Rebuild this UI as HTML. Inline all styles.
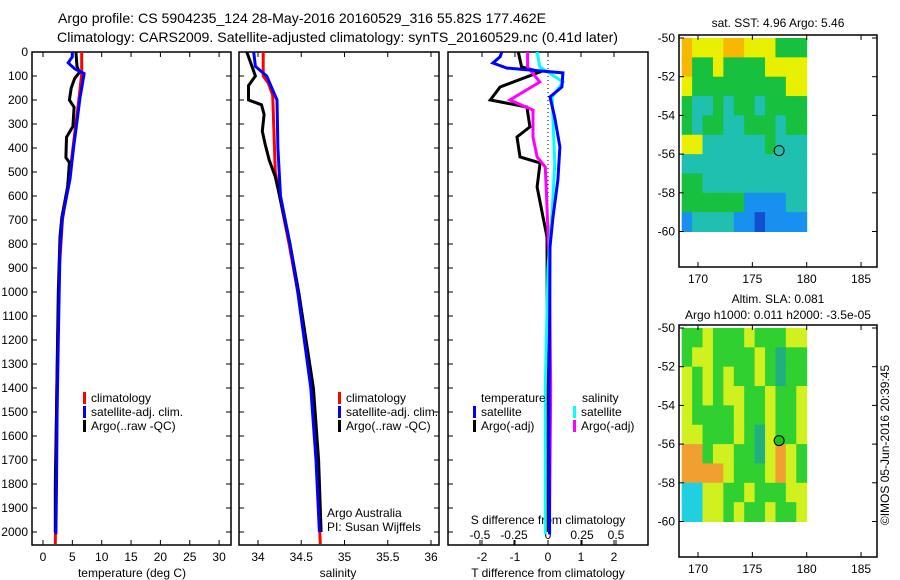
<!DOCTYPE html>
<html><head><meta charset="utf-8">
<style>
html,body{margin:0;padding:0;background:#fff;}
svg{display:block;font-family:"Liberation Sans",sans-serif;}
text{font-size:12px;fill:#000;}
.t{font-size:14px;}
</style></head>
<body>
<svg id="fig" width="900" height="580" viewBox="0 0 900 580" xmlns="http://www.w3.org/2000/svg">
<text class="t" x="58" y="23" textLength="488" lengthAdjust="spacingAndGlyphs">Argo profile: CS 5904235_124 28-May-2016 20160529_316 55.82S 177.462E</text>
<text class="t" x="57" y="42" textLength="561" lengthAdjust="spacingAndGlyphs">Climatology: CARS2009. Satellite-adjusted climatology: synTS_20160529.nc (0.41d later)</text>
<g id="g"></g>
</svg>
<script>
// ---------- data ----------
const depthTicks=[0,100,200,300,400,500,600,700,800,900,1000,1100,1200,1300,1400,1500,1600,1700,1800,1900,2000];
const tempTicks=[0,5,10,15,20,25,30];
const salTicks=[34,34.5,35,35.5,36];
const tdTicks=[-2,-1,0,1,2];
const sdTicks=[-0.5,-0.25,0,0.25,0.5];
const sdTickLabels=["-0.5","-0.25","0","0.25","0.5"];

const tClimD=[0,90,180,300,500,700,900,1200,1500,1800,2050];
const tClimV=[6.6,6.6,6.2,5.6,4.6,3.3,2.8,2.5,2.3,2.2,2.1];
const tSatD=[0,20,45,70,90,150,190,270,400,530,690,820,1200,1500,1800,2010];
const tSatV=[5.0,5.0,4.3,5.4,7.0,6.6,6.3,5.9,5.2,4.6,3.3,2.9,2.6,2.4,2.3,2.2];
const tArgD=[0,60,85,110,150,200,230,310,355,440,460,560,690,770,1000,1500,1800,2000];
const tArgV=[5.6,5.8,6.2,5.4,4.8,4.5,5.3,5.1,4.0,3.9,4.5,4.2,3.2,2.9,2.6,2.3,2.1,2.1];

const sClimD=[0,100,130,180,500,600,800,1000,1400,1700,2050];
const sClimV=[34.06,34.06,34.12,34.17,34.2,34.25,34.36,34.46,34.62,34.68,34.72];
const sSatD=[0,60,100,200,400,600,800,1000,1400,1700,2000];
const sSatV=[33.95,33.97,34.1,34.22,34.23,34.26,34.37,34.46,34.61,34.67,34.71];
const sArgD=[0,100,140,200,220,260,330,380,450,520,600,800,1000,1400,1700,2000];
const sArgV=[33.87,33.97,33.89,33.89,34.04,34.07,34.05,34.08,34.13,34.2,34.25,34.37,34.47,34.64,34.7,34.73];

const dTsD=[0,20,46,67,87,146,187,270,395,533,687,812,1200,1600,2010];
const dTsV=[-1.4,-1.45,-1.67,-1.24,0.45,0.42,0.06,0.2,0.36,0.3,0.15,0.06,0.05,0.03,0.05];
const dTaD=[0,62,83,146,200,229,312,354,437,462,562,687,771,1200,1600,2000];
const dTaV=[-0.9,-0.8,-0.24,-1.45,-1.75,-0.64,-0.55,-0.94,-0.85,-0.24,-0.33,-0.15,-0.03,-0.02,-0.05,0];
const dSsD=[0,62,125,187,325,465,670,900,1400,2010];
const dSsV=[-0.08,-0.06,0.11,0.03,0.04,0.05,0.03,0.0,-0.02,-0.02];
const dSaD=[0,62,125,200,242,354,437,479,604,900,1400,2010];
const dSaV=[-0.15,-0.15,-0.06,-0.28,-0.11,-0.11,-0.08,-0.02,-0.01,0.01,0.02,0.01];

const lonTicks=[170,175,180,185];
const latTicks=[-50,-52,-54,-56,-58,-60];
const sstGrid=["OYYYOOYYYGGG","OGGYGGGGYYYY","YGGGGGGGGGYY","GCCGCGGCGGGG","GCGGCCGGGCGG","YYCCCCCCGCCC","CCCCCCCCCCCC","GGCCCCCCCCCC","GGGGGGBBBBCC","BCCCCBBDBBBB"];
const slaGrid=["GGYGGGYGGGYY","GYYGGGGYGTGG","YGYGYGGYGTGG","YGYGYYGGYGGY","YGGGGYGGYGGY","YYGGGYGTYGGY","OOGYYGGTYOYG","OOOOYGGGYOYG","CCYYGGYGGGYY","CCYYGYGGYGGY"];
const profLon=177.462, profLat=-55.82;

// ---------- helpers ----------
const NS="http://www.w3.org/2000/svg";
const G=document.getElementById('g');
function mk(tag,at,parent){const e=document.createElementNS(NS,tag);for(const k in at)e.setAttribute(k,at[k]);(parent||G).appendChild(e);return e;}
const yD=d=>52+d*0.24;
function txt(x,y,s,anchor,name,extra){const e=mk('text',Object.assign({x:x,y:y,'text-anchor':anchor||'start'},extra||{}));e.textContent=s;


return e;}
function line(xs,ds,fx,col,name,w){const pts=ds.map((d,i)=>fx(xs[i]).toFixed(1)+','+yD(d).toFixed(1)).join(' ');
const p=mk('polyline',{points:pts,fill:'none',stroke:col,'stroke-width':w||3,'stroke-linejoin':'miter'});

}
function frame(x0,x1,y0,y1,name){const r=mk('rect',{x:x0,y:y0,width:x1-x0,height:y1-y0,fill:'none',stroke:'#000','stroke-width':1.5});

}
function leg(x,y,col,label,name){const r=mk('rect',{x:x,y:y-10,width:3,height:12,fill:col});


txt(x+8,y,label,'start',name);}

// ---------- panel 1: temperature ----------
const fT=t=>43+t*5.87;
frame(32,231,52,545,'temperature-panel');
depthTicks.forEach(d=>{mk('line',{x1:32,x2:37,y1:yD(d),y2:yD(d),stroke:'#000'});mk('line',{x1:226,x2:231,y1:yD(d),y2:yD(d),stroke:'#000'});
txt(28,yD(d)+4,String(d),'end','depth-tick-label');});
tempTicks.forEach(t=>{mk('line',{x1:fT(t),x2:fT(t),y1:52,y2:57,stroke:'#000'});mk('line',{x1:fT(t),x2:fT(t),y1:540,y2:545,stroke:'#000'});
txt(fT(t),561,String(t),'middle','temperature-tick-label');});
txt(132,577,'temperature (deg C)','middle','x-axis-title-temperature');
line(tClimV,tClimD,fT,'#f00','temp-climatology-line');
line(tArgV,tArgD,fT,'#000','temp-argo-line');
line(tSatV,tSatD,fT,'#00f','temp-satellite-line');
leg(83,402,'#f00','climatology','legend-climatology');
leg(83,416,'#00f','satellite-adj. clim.','legend-satellite-adj');
leg(83,430,'#000','Argo(..raw -QC)','legend-argo');

// ---------- panel 2: salinity ----------
const fS=s=>258+(s-34)*86.5;
frame(239,439,52,545,'salinity-panel');
depthTicks.forEach(d=>{mk('line',{x1:239,x2:244,y1:yD(d),y2:yD(d),stroke:'#000'});mk('line',{x1:434,x2:439,y1:yD(d),y2:yD(d),stroke:'#000'});});
salTicks.forEach(s=>{mk('line',{x1:fS(s),x2:fS(s),y1:52,y2:57,stroke:'#000'});mk('line',{x1:fS(s),x2:fS(s),y1:540,y2:545,stroke:'#000'});
txt(fS(s),561,String(s),'middle','salinity-tick-label');});
txt(338,577,'salinity','middle','x-axis-title-salinity');
line(sClimV,sClimD,fS,'#f00','sal-climatology-line');
line(sArgV,sArgD,fS,'#000','sal-argo-line');
line(sSatV,sSatD,fS,'#00f','sal-satellite-line');
leg(338,402,'#f00','climatology','legend-climatology-sal');
leg(338,416,'#00f','satellite-adj. clim.','legend-satellite-adj-sal');
leg(338,430,'#000','Argo(..raw -QC)','legend-argo-sal');
txt(327,517,'Argo Australia','start','credit-argo-australia');
txt(327,531,'PI: Susan Wijffels','start','credit-pi');

// ---------- panel 3: differences ----------
const fdT=v=>548+v*33;
const fdS=v=>548+v*136;
frame(448,648,52,545,'difference-panel');
depthTicks.forEach(d=>{mk('line',{x1:448,x2:453,y1:yD(d),y2:yD(d),stroke:'#000'});});
tdTicks.forEach(t=>{mk('line',{x1:fdT(t),x2:fdT(t),y1:52,y2:57,stroke:'#000'});mk('line',{x1:fdT(t),x2:fdT(t),y1:540,y2:545,stroke:'#000'});
txt(fdT(t),561,String(t),'middle','t-diff-tick-label');});
sdTicks.forEach((s,i)=>{mk('line',{x1:fdS(s),x2:fdS(s),y1:540,y2:545,stroke:'#000'});
txt(fdS(s),539,sdTickLabels[i],'middle','s-diff-tick-label');});
txt(548,524,'S difference from climatology','middle','s-diff-axis-title');
txt(548,577,'T difference from climatology','middle','t-diff-axis-title');
mk('line',{x1:548,x2:548,y1:52,y2:240,stroke:'#000','stroke-dasharray':'1,3'});
line(dTaV,dTaD,fdT,'#000','t-diff-argo-line');
line(dSaV,dSaD,fdS,'#f0f','s-diff-argo-line');
line(dSsV,dSsD,fdS,'#0ff','s-diff-satellite-line');
line(dTsV,dTsD,fdT,'#00f','t-diff-satellite-line');
txt(481,402,'temperature','start','legend-temperature-header');
txt(582,402,'salinity','start','legend-salinity-header');
leg(473,416,'#00f','satellite','legend-t-satellite');
leg(473,430,'#000','Argo(-adj)','legend-t-argo');
leg(573,416,'#0ff','satellite','legend-s-satellite');
leg(573,430,'#f0f','Argo(-adj)','legend-s-argo');

// ---------- maps ----------
const COL={O:'#f8b800',Y:'#e8f000',G:'#18c040',C:'#20c0b0',B:'#1890f0',D:'#1050d0',T:'#30b090'};
const COL2={O:'#f0a030',Y:'#d0f020',G:'#30d030',C:'#20d0e0',T:'#20b080'};
function map(y0,y1,grid,cols,name,t1,t2,dot){
  const fx=l=>698+(l-170)*10.87;
  const latTop=y0+3, fy=l=>latTop+(-50-l)*19.35;
  const rows=grid.length, nc=grid[0].length;
  const cw=(fx(180)-fx(168.5))/nc, rh=(fy(-60)-fy(-50))/rows;
  grid.forEach((row,r)=>{for(let c=0;c<nc;c++){mk('rect',{x:fx(168.5)+c*cw,y:fy(-50)+r*rh,width:cw+0.5,height:rh+0.5,fill:cols[row[c]]});}});
  frame(679,877,y0,y1,name);
  latTicks.forEach(l=>{mk('line',{x1:679,x2:684,y1:fy(l),y2:fy(l),stroke:'#000'});mk('line',{x1:872,x2:877,y1:fy(l),y2:fy(l),stroke:'#000'});
    txt(675,fy(l)+4,String(l),'end',name+'-lat-label');});
  lonTicks.forEach(l=>{mk('line',{x1:fx(l),x2:fx(l),y1:y0,y2:y0+5,stroke:'#000'});mk('line',{x1:fx(l),x2:fx(l),y1:y1-5,y2:y1,stroke:'#000'});
    txt(fx(l),y1+16,String(l),'middle',name+'-lon-label');});
  const c=mk('circle',{cx:fx(profLon),cy:fy(profLat),r:5,fill:dot,stroke:'#000','stroke-width':1});
  
  
  if(t2){txt(778,y0-22,t1,'middle',name+'-title-1');txt(778,y0-6,t2,'middle',name+'-title-2');}
  else txt(778,y0-8,t1,'middle',name+'-title');
}
map(35,267,sstGrid,COL,'sst-map','sat. SST: 4.96 Argo: 5.46',null,'none');
map(325,557,slaGrid,COL2,'sla-map','Altim. SLA: 0.081','Argo h1000: 0.011 h2000: -3.5e-05','#20c020');
txt(0,0,'©IMOS 05-Jun-2016 20:39:45','middle','timestamp-credit',{transform:'translate(889,445) rotate(-90)'});
</script>
</body></html>
